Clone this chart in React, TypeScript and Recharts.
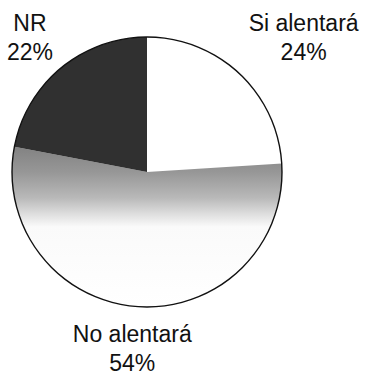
import { Pie, PieChart, Cell } from "recharts";

const categories = ["Si alentará", "No alentará", "NR"];
const shares = [24, 54, 22];
const fills = ["#ffffff", "url(#grayFade)", "#303030"];

const data = categories.map((name, i) => ({ name, value: shares[i] }));
const ring = [{ name: "ring", value: 1 }];

// small nudges so the labels sit where the original print has them
const labelNudge: Record<string, [number, number]> = {
  "Si alentará": [18, -7],
  "No alentará": [-2, -4],
  NR: [12, 0],
};

const RAD = Math.PI / 180;

const renderLabel = (props: any) => {
  const { cx, cy, midAngle, outerRadius, name, value } = props;
  const rx = outerRadius * 1.5;
  const ry = outerRadius * 1.32;
  const [nx, ny] = labelNudge[name] ?? [0, 0];
  const x = cx + rx * Math.cos(-midAngle * RAD) + nx;
  const y = cy + ry * Math.sin(-midAngle * RAD) + ny;
  return (
    <text
      x={x}
      y={y}
      textAnchor="middle"
      fill="#111"
      fontFamily="'Liberation Sans', Arial, sans-serif"
      fontSize={23}
    >
      <tspan x={x} dy={-4}>
        {name}
      </tspan>
      <tspan x={x} dy={29}>
        {value}%
      </tspan>
    </text>
  );
};

const App = () => {
  return (
    <div style={{ position: "fixed", left: 0, top: 0, background: "#fff" }}>
      <PieChart width={367} height={386} margin={{ top: 0, right: 0, bottom: 0, left: 0 }}>
        <defs>
          <linearGradient id="grayFade" x1="0" y1="0" x2="0" y2="1">
            <stop offset="0%" stopColor="#828282" />
            <stop offset="16%" stopColor="#979797" />
            <stop offset="32%" stopColor="#b9b9b9" />
            <stop offset="42%" stopColor="#dedede" />
            <stop offset="50%" stopColor="#fafafa" />
            <stop offset="100%" stopColor="#ffffff" />
          </linearGradient>
        </defs>
        <Pie
          data={data}
          dataKey="value"
          cx={147}
          cy={172}
          outerRadius={135}
          startAngle={90}
          endAngle={-270}
          stroke="none"
          label={renderLabel}
          labelLine={false}
          isAnimationActive={false}
        >
          {data.map((entry, index) => (
            <Cell key={`cell-${index}`} fill={fills[index]} />
          ))}
        </Pie>
        <Pie
          data={ring}
          dataKey="value"
          cx={147}
          cy={172}
          innerRadius={134.3}
          outerRadius={135.7}
          startAngle={90}
          endAngle={-270}
          fill="#111"
          stroke="none"
          isAnimationActive={false}
        />
      </PieChart>
    </div>
  );
};

export default App;
